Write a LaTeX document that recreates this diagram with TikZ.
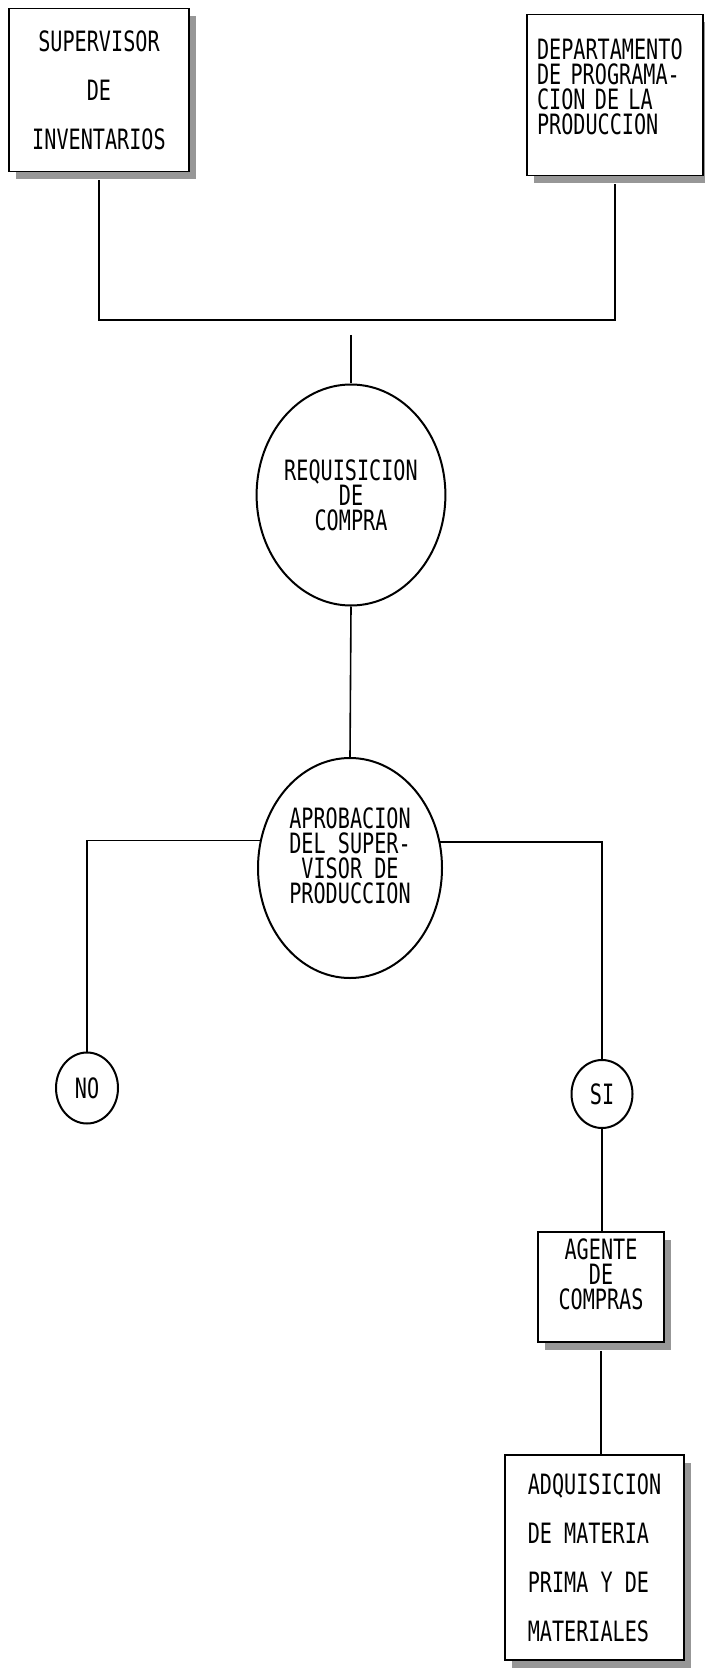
\documentclass[tikz,border=0pt]{standalone}
\usepackage{fontspec}
\newfontfamily\dotfont[FakeStretch=0.72]{DejaVu Sans Mono}
\usetikzlibrary{shapes.geometric,shadows}

\tikzset{
  box/.style={draw, line width=0.8pt, fill=white, inner sep=0pt,
    drop shadow={fill=black!45, opacity=.9, shadow xshift=3.5pt, shadow yshift=-4pt}},
  oval/.style={draw, ellipse, line width=1pt, inner sep=0pt, align=center},
  wire/.style={line width=0.8pt},
  tight/.style={font=\dotfont\fontsize{14}{12.5}\selectfont},
  loose/.style={font=\dotfont\fontsize{14}{24.5}\selectfont},
}

\begin{document}
\begin{tikzpicture}[x=0.5pt, y=-0.5pt]
    \useasboundingbox (0,0) rectangle (705,1668);

    % origen de la requisicion
    \node[box, loose, align=center, minimum width=90pt, minimum height=81.5pt] (sup) at (99,90) {SUPERVISOR\\DE\\INVENTARIOS};
    \node[box, tight, align=left, text width=78pt, inner xsep=5pt, minimum height=80.5pt] (dep) at (615,95) {DEPARTAMENTO\\DE PROGRAMA-\\CION DE LA\\PRODUCCION\\[-4pt]~};

    \node[oval, tight, minimum width=90pt, minimum height=110.5pt] (req) at (351,495) {REQUISICION\\DE\\COMPRA};
    \node[oval, tight, minimum width=92pt, minimum height=110pt] (apr) at (350,868) {APROBACION\\DEL SUPER-\\VISOR DE\\PRODUCCION\\~};

    % decision
    \node[oval, tight, minimum width=31pt, minimum height=35.5pt] (no) at (87,1088) {NO};
    \node[oval, tight, minimum width=30.5pt, minimum height=34pt] (si) at (602,1094) {SI};

    \node[box, tight, align=center, minimum width=63pt, minimum height=55pt] (agt) at (601,1287) {AGENTE\\DE\\COMPRAS\\~};
    \node[box, loose, align=left, minimum width=89.5pt, minimum height=102.5pt] (adq) at (594.5,1557.5) {ADQUISICION\\DE MATERIA\\PRIMA Y DE\\MATERIALES};

    \coordinate (bus) at (351,320);
    \coordinate (feed) at (351,335);

    \draw[wire, shorten <=4pt, shorten >=4pt] (sup.south) |- (bus) -| (dep.south);
    \draw[wire] (feed) -- (req.north);
    \draw[wire] (req.south) -- (apr.north);
    \draw[wire] (apr.163) -| (no.north);
    \draw[wire] (apr.16) -| (si.north);
    \draw[wire] (si.south) -- (si.south |- agt.north);
    \draw[wire, shorten <=4pt] (agt.south) -- (agt.south |- adq.north);
\end{tikzpicture}
\end{document}
